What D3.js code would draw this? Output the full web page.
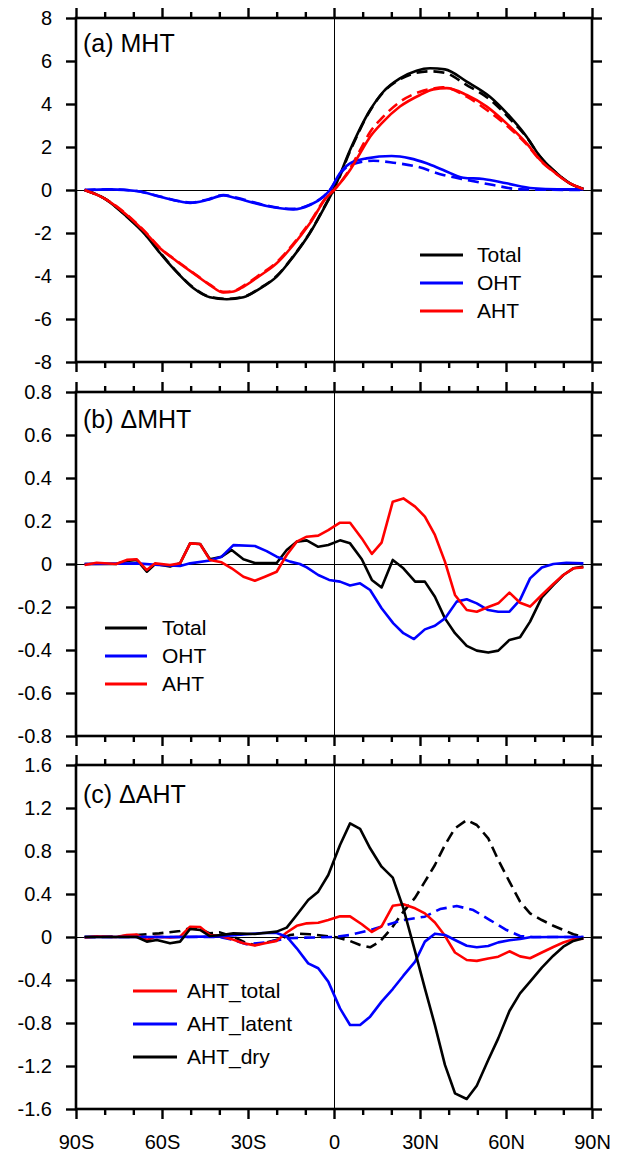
<!DOCTYPE html>
<html><head><meta charset="utf-8">
<script src="https://cdn.jsdelivr.net/npm/d3@7"></script>
<style>
body{margin:0;background:#fff}
svg{display:block}
text{font-family:"Liberation Sans",Arial,Helvetica,sans-serif;fill:#000}
</style>
</head><body>
<svg id="chart" width="618" height="1153"></svg>
<script>
// ---------- DATA: [latitude, value] ----------
const xTickValues = [-90, -60, -30, 0, 30, 60, 90];
const xTickLabels = ["90S", "60S", "30S", "0", "30N", "60N", "90N"];

// (a) MHT (PW); solid = experiment, dashed = control
const mhtTotal = [[-87,0],[-80,-0.4],[-72.3,-1.24],[-66,-2.05],[-60.7,-2.93],[-55,-3.8],[-49,-4.57],[-43.3,-4.99],[-37.4,-5.08],[-31.6,-4.99],[-26,-4.6],[-20,-4.03],[-14.2,-3.1],[-8.4,-2.0],[-2.6,-0.62],[0,0.05],[5.6,1.86],[12.6,3.72],[17.2,4.57],[23,5.19],[28.8,5.55],[33.5,5.66],[38.7,5.61],[46.3,5.04],[54.4,4.34],[61.4,3.41],[67.2,2.48],[71.9,1.55],[77.7,0.78],[82.3,0.31],[87,0.05]];
const mhtTotalCtl = [[-87,0],[-80,-0.4],[-72.3,-1.22],[-66,-2.02],[-60.7,-2.9],[-55,-3.78],[-49,-4.55],[-43.3,-4.97],[-37.4,-5.06],[-31.6,-4.97],[-26,-4.58],[-20,-4.0],[-14.2,-3.08],[-8.4,-1.98],[-2.6,-0.6],[0,0.02],[5.6,1.8],[12.6,3.7],[17.2,4.55],[23,5.15],[28.8,5.45],[33.5,5.52],[38.7,5.45],[46.3,4.88],[54.4,4.2],[61.4,3.3],[67.2,2.45],[71.9,1.55],[77.7,0.78],[82.3,0.31],[87,0.05]];
const mhtAHT = [[-87,0],[-80,-0.4],[-72.3,-1.16],[-66,-1.95],[-60.7,-2.71],[-55,-3.3],[-49,-3.88],[-43.3,-4.42],[-38.6,-4.77],[-35,-4.72],[-31.6,-4.5],[-26,-4.0],[-20,-3.41],[-14.2,-2.56],[-8.4,-1.55],[-2.6,-0.35],[0,0],[5.6,0.93],[9.1,1.71],[12.6,2.48],[16.6,3.1],[23,3.88],[30,4.42],[34.6,4.68],[39.3,4.74],[46.3,4.42],[53.3,3.88],[60.2,3.1],[67.2,2.17],[71.9,1.4],[77.7,0.74],[82.3,0.31],[87,0.05]];
const mhtAHTCtl = [[-87,0],[-80,-0.4],[-72.3,-1.14],[-66,-1.93],[-60.7,-2.69],[-55,-3.28],[-49,-3.86],[-43.3,-4.4],[-38.6,-4.74],[-35,-4.7],[-31.6,-4.46],[-26,-3.95],[-20,-3.36],[-14.2,-2.5],[-8.4,-1.5],[-2.6,-0.32],[0,0],[5.6,1.0],[9.1,1.85],[12.6,2.7],[16.6,3.33],[23,4.1],[30,4.57],[34.6,4.72],[38,4.78],[46.3,4.34],[53.3,3.72],[60.2,3.0],[67.2,2.12],[71.9,1.38],[77.7,0.74],[82.3,0.31],[87,0.05]];
const mhtOHT = [[-87,0],[-78,0.03],[-68.8,-0.05],[-60.7,-0.31],[-55,-0.5],[-50.2,-0.6],[-44.4,-0.47],[-38.6,-0.25],[-35,-0.35],[-31.6,-0.47],[-23.5,-0.74],[-14.2,-0.9],[-8.4,-0.7],[-3.7,-0.31],[-1.4,0],[2.1,0.79],[5.6,1.24],[11.4,1.47],[20.1,1.58],[26.5,1.47],[32.3,1.24],[38.1,0.93],[45.1,0.57],[52.1,0.51],[60.2,0.31],[69.5,0.08],[78,0.03],[87,0.03]];
const mhtOHTCtl = [[-87,0],[-78,0.03],[-68.8,-0.05],[-60.7,-0.3],[-55,-0.49],[-50.2,-0.58],[-44.4,-0.45],[-38.6,-0.23],[-35,-0.32],[-31.6,-0.44],[-23.5,-0.72],[-14.2,-0.88],[-8.4,-0.68],[-3.7,-0.3],[-1.4,0],[2.1,0.75],[5.6,1.16],[13.7,1.36],[20.7,1.27],[28.8,1.09],[38.1,0.7],[46.3,0.47],[55.6,0.23],[65,0.03],[87,0]];

// (b) ΔMHT (PW)
const dTotal = [[-87,0],[-76,0],[-72.3,0.014],[-68.8,0.019],[-65.3,-0.036],[-62.4,0],[-57.2,-0.012],[-53.7,0.003],[-50.2,0.096],[-46.7,0.093],[-43.3,0.022],[-39.2,0.034],[-35.7,0.065],[-31.6,0.022],[-27.6,0.005],[-20,0.005],[-16.5,0.065],[-13,0.104],[-9.5,0.11],[-5.5,0.08],[-2,0.088],[2.1,0.11],[5.6,0.096],[9.7,0.022],[13.2,-0.074],[16.6,-0.109],[20.5,0.019],[24.2,-0.02],[28.3,-0.082],[31.7,-0.082],[35.2,-0.152],[38.7,-0.253],[42.2,-0.322],[46.3,-0.381],[49.8,-0.403],[53.8,-0.412],[57.3,-0.403],[61.2,-0.353],[64.9,-0.341],[68.4,-0.268],[72.5,-0.155],[76.5,-0.098],[80,-0.051],[83.5,-0.02],[87,-0.012]];
const dOHT = [[-87,0],[-68.8,0.003],[-61,-0.005],[-53.7,-0.009],[-50.2,0.003],[-43.3,0.016],[-39.2,0.034],[-35.1,0.088],[-27.6,0.084],[-23.5,0.06],[-20,0.034],[-15.3,0.011],[-11.9,0],[-9.5,-0.016],[-5.5,-0.051],[-1.7,-0.074],[2.1,-0.082],[5.6,-0.1],[9.1,-0.09],[12.6,-0.121],[16.6,-0.206],[20.7,-0.276],[24.2,-0.322],[27.9,-0.349],[31.7,-0.304],[35.2,-0.287],[38.7,-0.253],[42.8,-0.175],[46.3,-0.164],[49.8,-0.183],[53.8,-0.214],[57.3,-0.222],[61.2,-0.222],[64.9,-0.167],[68.4,-0.067],[72.5,-0.016],[76.5,0],[81.1,0.006],[87,0.003]];
const dAHT = [[-87,-0.005],[-82.8,0.006],[-76,0],[-72.3,0.019],[-68.8,0.022],[-65.3,-0.028],[-62.4,0.003],[-57.2,-0.005],[-53.7,0.003],[-50.2,0.096],[-46.7,0.093],[-43.3,0.019],[-39.2,0.008],[-35.7,-0.02],[-31.6,-0.059],[-27.6,-0.078],[-24.1,-0.059],[-20,-0.036],[-16.5,0.042],[-13,0.104],[-9.5,0.127],[-5.5,0.132],[-2,0.158],[2.1,0.192],[5.6,0.192],[9.7,0.119],[13.2,0.047],[16.6,0.099],[20.5,0.29],[24.2,0.305],[28.3,0.267],[31.7,0.22],[35.2,0.135],[38.7,0.011],[42.2,-0.144],[46.3,-0.214],[49.8,-0.222],[53.8,-0.2],[57.3,-0.183],[61.2,-0.133],[64.9,-0.18],[68.4,-0.198],[72.5,-0.144],[76.5,-0.093],[80,-0.051],[83.5,-0.02],[87,-0.016]];

// (c) ΔAHT (PW)
const dAHTtotal = dAHT;
const dAHTlatent = [[-87,0],[-55,0],[-40,0.006],[-30.5,0.025],[-25,0.037],[-20,0.037],[-16.5,0.003],[-13,-0.105],[-9,-0.245],[-5.5,-0.291],[-2,-0.415],[2.1,-0.664],[5.6,-0.819],[9.1,-0.819],[12.6,-0.741],[16.6,-0.601],[20.5,-0.484],[24.2,-0.36],[28.3,-0.229],[31.7,-0.043],[35.2,0.031],[38.7,0.019],[42.2,-0.028],[46.3,-0.081],[49.8,-0.096],[53.8,-0.084],[57.3,-0.05],[61.2,-0.031],[64.9,-0.019],[68.4,-0.003],[76.5,0],[87,0]];
const dAHTdry = [[-87,0],[-68.8,0],[-65.3,-0.043],[-61.8,-0.028],[-57.2,-0.059],[-53.7,-0.043],[-50.2,0.074],[-46.7,0.065],[-43.3,0.009],[-39.2,0.019],[-35.1,0.034],[-27.6,0.028],[-20,0.05],[-16.5,0.087],[-13,0.205],[-9,0.344],[-5.5,0.422],[-2,0.577],[2.1,0.856],[5.6,1.057],[9.1,1.005],[12.6,0.825],[16.6,0.654],[20.5,0.552],[24.2,0.267],[28.3,-0.136],[31.7,-0.478],[35.2,-0.819],[38.7,-1.19],[42.2,-1.454],[46.3,-1.507],[49.8,-1.383],[53.8,-1.144],[57.3,-0.943],[61.2,-0.688],[64.9,-0.524],[68.4,-0.416],[72.5,-0.285],[76.5,-0.174],[80,-0.09],[83.5,-0.037],[87,-0.012]];
const dAHTdryDash = [[-87,0],[-75,0.005],[-68.8,0.019],[-61,0.034],[-53.7,0.056],[-50.2,0.081],[-46.7,0.074],[-43.3,0.034],[-39.8,0.043],[-35.1,0.003],[-30.5,-0.059],[-27.6,-0.074],[-23.5,-0.05],[-18.8,-0.019],[-15.3,0.019],[-11.9,0.03],[-8.4,0.025],[-3.7,0.012],[0.9,-0.003],[5.6,-0.037],[9.1,-0.074],[12.6,-0.096],[16,-0.043],[20.1,0.081],[24.2,0.236],[28.3,0.366],[31.7,0.515],[35.2,0.67],[38.7,0.856],[42.2,1.011],[46.3,1.088],[49.8,1.042],[53.8,0.918],[57.3,0.716],[61.2,0.515],[64.9,0.329],[68.4,0.22],[72.5,0.158],[76.5,0.105],[80,0.065],[83.5,0.025],[87,0]];
const dAHTlatentDash = [[-87,0],[-40,0],[-35.1,-0.028],[-30.5,-0.068],[-23.5,-0.05],[-16.5,-0.012],[-10,-0.006],[0,0],[5.6,0.019],[12.6,0.065],[18.4,0.112],[24.2,0.158],[31.7,0.189],[37,0.26],[42.8,0.288],[48.6,0.251],[54.4,0.158],[60.2,0.065],[64.9,0.009],[69.5,0],[87,0]];

const yTicksA = [-8,-6,-4,-2,0,2,4,6,8];
const yTicksB = [-0.8,-0.6,-0.4,-0.2,0,0.2,0.4,0.6,0.8];
const yTicksC = [-1.6,-1.2,-0.8,-0.4,0,0.4,0.8,1.2,1.6];

const BLACK = "#000", BLUE = "#0000ff", RED = "#ff0000";

// ---------- LAYOUT ----------
const svg = d3.select("#chart");
const left = 76, right = 592;
const x = d3.scaleLinear().domain([-90, 90]).range([left, right]);

const panels = [
  { top: 18, bottom: 362, domain: [-8, 8], ticks: yTicksA, title: "(a) MHT", titleY: 52, curve: d3.curveMonotoneX,
    series: [
      { d: mhtTotalCtl, c: BLACK, dash: true }, { d: mhtOHTCtl, c: BLUE, dash: true }, { d: mhtAHTCtl, c: RED, dash: true },
      { d: mhtTotal, c: BLACK }, { d: mhtOHT, c: BLUE }, { d: mhtAHT, c: RED }
    ],
    legend: { x1: 420, x2: 463, tx: 477, y0: 255, dy: 28, items: [["Total", BLACK], ["OHT", BLUE], ["AHT", RED]] },
    xLabels: false },
  { top: 392, bottom: 736, domain: [-0.8, 0.8], ticks: yTicksB, title: "(b) \u0394MHT", titleY: 428, curve: d3.curveLinear,
    series: [ { d: dTotal, c: BLACK }, { d: dOHT, c: BLUE }, { d: dAHT, c: RED } ],
    legend: { x1: 105, x2: 147, tx: 162, y0: 628, dy: 28, items: [["Total", BLACK], ["OHT", BLUE], ["AHT", RED]] },
    xLabels: false },
  { top: 765, bottom: 1109, domain: [-1.6, 1.6], ticks: yTicksC, title: "(c) \u0394AHT", titleY: 803, curve: d3.curveLinear,
    series: [
      { d: dAHTdryDash, c: BLACK, dash: true }, { d: dAHTlatentDash, c: BLUE, dash: true },
      { d: dAHTtotal, c: RED }, { d: dAHTlatent, c: BLUE }, { d: dAHTdry, c: BLACK }
    ],
    legend: { x1: 133, x2: 177, tx: 187, y0: 991, dy: 33, items: [["AHT_total", RED], ["AHT_latent", BLUE], ["AHT_dry", BLACK]] },
    xLabels: true }
];

const fmtY = v => (v === 0 ? "0" : String(+v.toFixed(2))).replace("\u2212", "-");
const minorX = d3.range(-80, 90, 10).filter(v => v % 30 !== 0);

panels.forEach(p => {
  const y = d3.scaleLinear().domain(p.domain).range([p.bottom, p.top]);
  const g = svg.append("g");

  // zero reference lines
  g.append("line").attr("x1", left).attr("x2", right).attr("y1", y(0) + 0.5).attr("y2", y(0) + 0.5)
    .attr("stroke", "#000").attr("stroke-width", 1.3).attr("shape-rendering", "crispEdges");
  g.append("line").attr("x1", x(0) + 0.5).attr("x2", x(0) + 0.5).attr("y1", p.top).attr("y2", p.bottom)
    .attr("stroke", "#000").attr("stroke-width", 1.3).attr("shape-rendering", "crispEdges");

  // data lines
  const line = d3.line().x(d => x(d[0])).y(d => y(d[1])).curve(p.curve);
  p.series.forEach(s => {
    g.append("path").datum(s.d).attr("d", line).attr("fill", "none")
      .attr("stroke", s.c).attr("stroke-width", 2.6)
      .attr("stroke-linejoin", "round").attr("stroke-linecap", "butt")
      .attr("stroke-dasharray", s.dash ? "11,6" : null);
  });

  // axes
  const axL = d3.axisLeft(y).tickValues(p.ticks).tickSize(10).tickPadding(14).tickFormat(fmtY).tickSizeOuter(0);
  const axR = d3.axisRight(y).tickValues(p.ticks).tickSize(10).tickFormat("").tickSizeOuter(0);
  const axT = d3.axisTop(x).tickValues(xTickValues).tickSize(10).tickFormat("").tickSizeOuter(0);
  const axTm = d3.axisTop(x).tickValues(minorX).tickSize(6).tickFormat("").tickSizeOuter(0);
  const axB = d3.axisBottom(x).tickValues(xTickValues).tickSize(10).tickPadding(16)
    .tickFormat((d, i) => p.xLabels ? xTickLabels[i] : "").tickSizeOuter(0);
  const axBm = d3.axisBottom(x).tickValues(minorX).tickSize(6).tickFormat("").tickSizeOuter(0);

  const axes = [
    [axL, `translate(${left},0)`], [axR, `translate(${right},0)`],
    [axT, `translate(0,${p.top})`], [axTm, `translate(0,${p.top})`],
    [axB, `translate(0,${p.bottom})`], [axBm, `translate(0,${p.bottom})`]
  ];
  axes.forEach(([ax, tr]) => {
    const a = g.append("g").attr("transform", tr).call(ax);
    a.select(".domain").remove();
    a.selectAll(".tick line").attr("stroke", "#000").attr("stroke-width", 2.4);
    a.selectAll(".tick text").attr("font-size", 20).attr("fill", "#000")
      .style("font-family", '"Liberation Sans", Arial, sans-serif');
  });

  // frame
  g.append("rect").attr("x", left).attr("y", p.top).attr("width", right - left).attr("height", p.bottom - p.top)
    .attr("fill", "none").attr("stroke", "#000").attr("stroke-width", 2.6);

  // title
  g.append("text").attr("x", 83).attr("y", p.titleY).attr("font-size", 25).text(p.title);

  // legend
  const L = p.legend;
  L.items.forEach((it, i) => {
    const yy = L.y0 + i * L.dy;
    g.append("line").attr("x1", L.x1).attr("x2", L.x2).attr("y1", yy).attr("y2", yy)
      .attr("stroke", it[1]).attr("stroke-width", 3);
    g.append("text").attr("x", L.tx).attr("y", yy).attr("dy", "0.35em").attr("font-size", 21).text(it[0]);
  });
});
</script>
</body></html>
